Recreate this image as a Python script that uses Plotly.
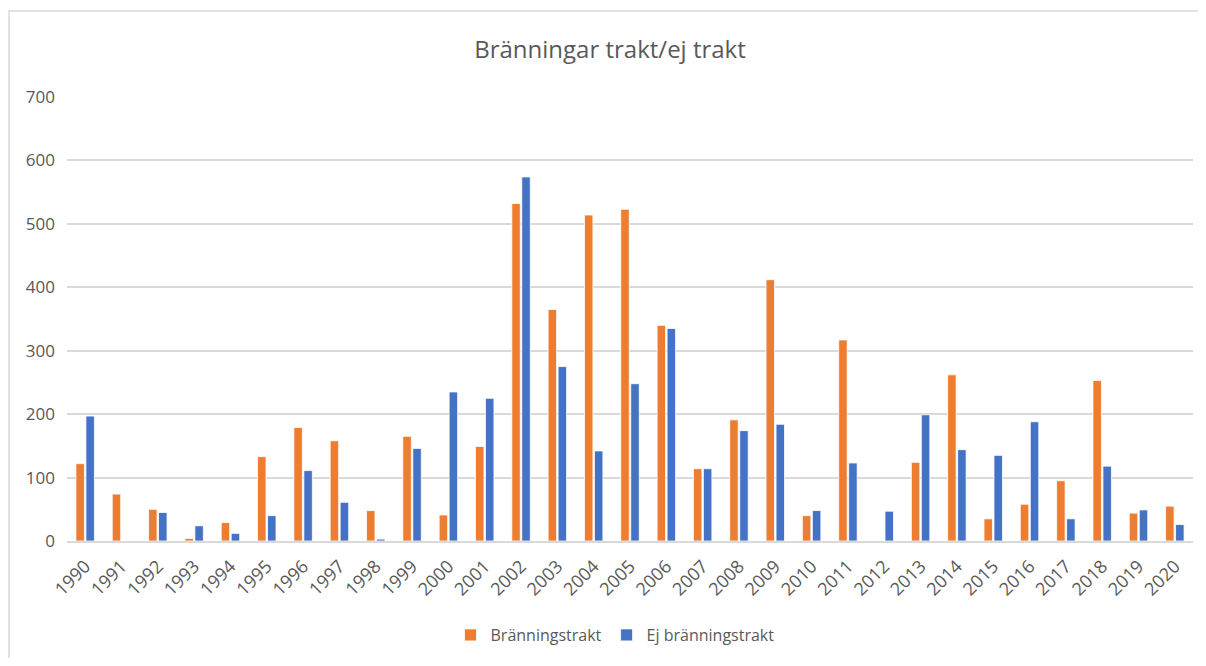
import plotly.graph_objects as go

years = [str(y) for y in range(1990, 2021)]
branningstrakt = [122, 74, 50, 4, 29, 133, 179, 158, 48, 165, 41, 149, 532, 365, 514, 523, 340, 114, 191, 412,
                  40, 317, 0, 124, 262, 35, 58, 95, 253, 44, 55]
ej_branningstrakt = [197, 0, 45, 24, 12, 40, 111, 61, 3, 146, 235, 225, 574, 275, 142, 248, 335, 114, 174, 184,
                     48, 123, 47, 199, 144, 135, 188, 35, 118, 49, 26]
y_ticks = [0, 100, 200, 300, 400, 500, 600, 700]

FONT = "Open Sans"
GRAY = "#595959"

W, H = 1190, 650
L, R, T, B = 59, 5, 89, 117
PW, PH = W - L - R, H - T - B

fig = go.Figure()
fig.add_trace(go.Bar(x=years, y=branningstrakt, name="Bränningstrakt",
                     marker=dict(color="#ED7D31", line=dict(color="white", width=0.8))))
fig.add_trace(go.Bar(x=years, y=ej_branningstrakt, name="Ej bränningstrakt",
                     marker=dict(color="#4472C4", line=dict(color="white", width=0.8))))

fig.update_layout(
    width=W, height=H,
    margin=dict(l=L, r=R, t=T, b=B),
    paper_bgcolor="white", plot_bgcolor="white",
    title=dict(text="Bränningar trakt/ej trakt", x=(465 - 8 + 145) / W, xanchor="center",
               y=1 - (50 - 8) / H, yanchor="middle",
               font=dict(family=FONT, size=24, color=GRAY)),
    barmode="group", bargap=0.45, bargroupgap=0.15,
    legend=dict(orientation="h", x=0.5 - 15 / PW, xanchor="center", y=(PH - (635 - 8 - T)) / PH,
                yanchor="middle",
                font=dict(family=FONT, size=16, color=GRAY), itemwidth=30),
    xaxis=dict(tickangle=-45, tickfont=dict(family=FONT, size=18, color=GRAY),
               showline=True, linecolor="#D9D9D9", linewidth=1.5, ticks="", ticklabelstandoff=6),
    yaxis=dict(range=[0, 700], tickvals=y_ticks, tickfont=dict(family=FONT, size=17, color=GRAY),
               showgrid=True, gridcolor="#D9D9D9", gridwidth=1.5, zeroline=False, ticks="",
               ticklabelstandoff=11),
    shapes=[dict(type="rect", xref="paper", yref="paper",
                 x0=(1 - L) / PW, x1=1.0 + (R + 20) / PW, y0=-(B + 20) / PH, y1=1 + (T - 3) / PH,
                 line=dict(color="#D9D9D9", width=1.5), fillcolor="rgba(0,0,0,0)", layer="below")],
)

fig.write_html("out.html")
